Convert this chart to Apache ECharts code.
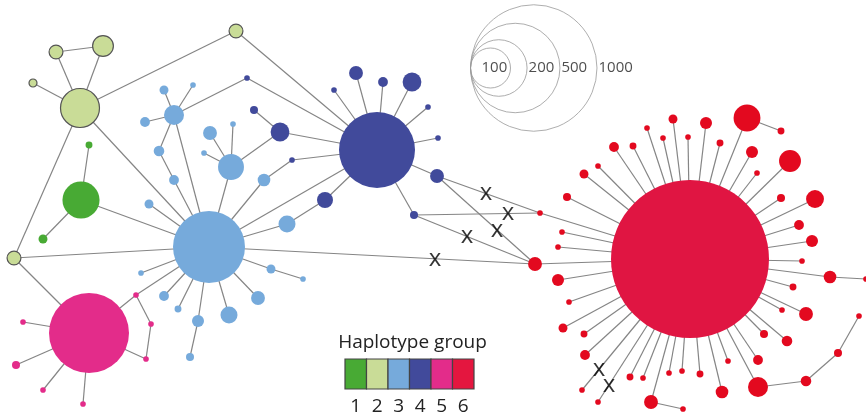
<!DOCTYPE html>
<html>
<head>
<meta charset="utf-8">
<script src="https://cdn.jsdelivr.net/npm/echarts@6/dist/echarts.min.js"></script>
<style>
  html, body { margin: 0; padding: 0; background: #fff; }
  #chart { width: 866px; height: 419px; }
</style>
</head>
<body>
<div id="chart"></div>
<script>
// ---- Haplotype groups ----
const groupLabels = ['1', '2', '3', '4', '5', '6'];
const groupColors = ['#48aa34', '#c9dc97', '#76aadb', '#414a9b', '#e32c8a', '#e3091f'];

// ---- Haplotypes: [id, layout x, layout y, number of samples] ----
const group1 = [
  ['G1', 81, 200, 86], ['G1a', 89, 145, 3], ['G1b', 43, 239, 5]
];
const group2 = [
  ['L2', 80, 108, 95], ['L2a', 56, 52, 12], ['L2b', 103, 46, 27], ['L2c', 33, 83, 4],
  ['L2d', 236, 31, 12], ['L2e', 14, 258, 12]
];
const group3 = [
  ['B0', 209, 247, 324],
  ['B1', 174, 115, 25], ['B1a', 164, 90, 5], ['B1b', 193, 85, 2], ['B1c', 145, 122, 6],
  ['B1d', 159, 151, 7], ['B1e', 174, 180, 6],
  ['B2', 149, 204, 5],
  ['B3', 231, 167, 42], ['B3a', 210, 133, 12], ['B3b', 233, 124, 2], ['B3c', 204, 153, 2],
  ['B4', 264, 180, 10], ['B5', 287, 224, 18], ['B6', 141, 273, 2], ['B7', 164, 296, 6],
  ['B8', 178, 309, 3], ['B9', 198, 321, 9], ['B9a', 190, 357, 4], ['B10', 229, 315, 18],
  ['B11', 258, 298, 12], ['B12', 271, 269, 5], ['B12a', 303, 279, 2]
];
const group4 = [
  ['D0', 377, 150, 361],
  ['D1', 356, 73, 12], ['D2', 383, 82, 6], ['D3', 412, 82, 22], ['D4', 334, 90, 2],
  ['D5', 428, 107, 2], ['D6', 438, 138, 2], ['D7', 437, 176, 12], ['D8', 414, 215, 4],
  ['D9', 247, 78, 2], ['D10', 280, 132, 22], ['D10a', 254, 110, 4], ['D11', 292, 160, 2],
  ['D12', 325, 200, 16]
];
const group5 = [
  ['M0', 89, 333, 400],
  ['M1', 23, 322, 2], ['M2', 16, 365, 4], ['M3', 43, 390, 2], ['M4', 83, 404, 2],
  ['M5', 136, 295, 2], ['M6', 151, 324, 2], ['M7', 146, 359, 2]
];
const group6 = [
  ['R0', 690, 259, 1560],
  ['R1', 535, 264, 12], ['R2', 540, 213, 2], ['R3', 562, 232, 2], ['R4', 558, 247, 2],
  ['R5', 558, 280, 9], ['R6', 569, 302, 2], ['R7', 563, 328, 5], ['R8', 584, 334, 3],
  ['R9', 585, 355, 6], ['R10', 582, 390, 2], ['R11', 598, 402, 2], ['R12', 630, 377, 3],
  ['R13', 643, 378, 2], ['R14', 651, 402, 12], ['R14a', 683, 409, 2], ['R15', 669, 373, 2],
  ['R16', 682, 371, 2], ['R17', 700, 374, 3], ['R18', 722, 392, 10], ['R19', 728, 361, 2],
  ['R20', 758, 360, 6], ['R21', 758, 387, 25], ['R21a', 806, 381, 7], ['R21b', 838, 353, 4],
  ['R21c', 859, 316, 2], ['R22', 764, 334, 4], ['R23', 787, 341, 7], ['R24', 782, 310, 2],
  ['R25', 806, 314, 12], ['R26', 793, 287, 3], ['R27', 830, 277, 10], ['R27a', 866, 279, 2],
  ['R28', 802, 261, 2], ['R29', 812, 241, 9], ['R30', 799, 225, 6], ['R31', 815, 199, 20],
  ['R32', 781, 198, 4], ['R33', 790, 161, 30], ['R34', 757, 173, 2], ['R35', 752, 152, 9],
  ['R36', 747, 118, 45], ['R36a', 781, 131, 3], ['R37', 720, 143, 3], ['R38', 706, 123, 9],
  ['R39', 688, 137, 2], ['R40', 673, 119, 5], ['R41', 663, 138, 2], ['R42', 647, 128, 2],
  ['R43', 633, 146, 3], ['R44', 614, 147, 6], ['R45', 598, 166, 2], ['R46', 584, 174, 5],
  ['R47', 567, 197, 4]
];

// ---- Mutational connections ----
const links = [
  ['L2', 'L2a'], ['L2', 'L2b'], ['L2a', 'L2b'], ['L2', 'L2c'], ['L2', 'L2d'], ['L2d', 'D0'],
  ['L2', 'L2e'], ['L2', 'B0'], ['L2e', 'B0'], ['L2e', 'M0'],
  ['G1', 'G1a'], ['G1', 'G1b'], ['G1', 'B0'],
  ['M0', 'M1'], ['M0', 'M2'], ['M0', 'M3'], ['M0', 'M4'], ['M0', 'M5'], ['M5', 'M6'],
  ['M6', 'M7'], ['M7', 'M0'], ['M5', 'B0'],
  ['B0', 'B1'], ['B1', 'B1a'], ['B1', 'B1b'], ['B1', 'B1c'], ['B1', 'B1d'], ['B1d', 'B1e'],
  ['B1e', 'B0'], ['B1', 'D9'], ['D9', 'D0'],
  ['B0', 'B2'], ['B0', 'B3'], ['B3', 'B3a'], ['B3', 'B3b'], ['B3', 'B3c'], ['B3', 'D10'],
  ['D10', 'D10a'], ['D10', 'D0'],
  ['B0', 'B4'], ['B4', 'D11'], ['D11', 'D0'], ['B0', 'B5'], ['B5', 'D12'], ['D12', 'D0'],
  ['B0', 'B6'], ['B0', 'B7'], ['B0', 'B8'], ['B0', 'B9'], ['B9', 'B9a'], ['B0', 'B10'],
  ['B0', 'B11'], ['B0', 'B12'], ['B12', 'B12a'], ['B0', 'D0'],
  ['D0', 'D1'], ['D0', 'D2'], ['D0', 'D3'], ['D0', 'D4'], ['D0', 'D5'], ['D0', 'D6'],
  ['D0', 'D7'], ['D0', 'D8'],
  ['B0', 'R1'], ['D8', 'R1'], ['D7', 'R1'], ['D7', 'R2'], ['D8', 'R2'],
  ['R14', 'R14a'], ['R21', 'R21a'], ['R21a', 'R21b'], ['R21b', 'R21c'],
  ['R27', 'R27a'], ['R36', 'R36a']
];
// every non-terminal red haplotype radiates from the central one
group6.forEach(function (h) {
  if (h[0] !== 'R0' && !/[a-z]$/.test(h[0])) links.push(['R0', h[0]]);
});

// ---- Missing intermediate haplotypes: [from, to, fraction along the link] ----
const missing = [
  ['B0', 'R1', 0.693], ['D8', 'R1', 0.438], ['D7', 'R1', 0.612],
  ['D7', 'R2', 0.476], ['D8', 'R2', 0.746],
  ['R0', 'R10', 0.843], ['R0', 'R11', 0.88]
];

// ---- Circle size key (number of samples) ----
const sizeKey = [100, 200, 500, 1000];

// ---------------------------------------------------------------
const diameter = n => 4 * Math.sqrt(n);
const allGroups = [group1, group2, group3, group4, group5, group6];
const pos = {};
const nodes = [];
allGroups.forEach(function (grp, gi) {
  grp.forEach(function (h) {
    pos[h[0]] = [h[1], h[2]];
    const isRedHub = gi === 5 && h[3] > 500;
    nodes.push({
      name: h[0],
      value: [h[1], h[2]],
      symbolSize: diameter(h[3]),
      itemStyle: {
        color: isRedHub ? '#e01542' : groupColors[gi],
        borderColor: gi === 1 ? '#555' : 'rgba(0,0,0,0)',
        borderWidth: gi === 1 ? 1.2 : 0
      }
    });
  });
});

const edges = links.map(l => ({ source: l[0], target: l[1] }));

const xMarks = missing.map(function (m) {
  const a = pos[m[0]], b = pos[m[1]], t = m[2];
  return [a[0] + (b[0] - a[0]) * t, a[1] + (b[1] - a[1]) * t];
});

const keyLeft = 470.5, keyY = 68;
const keyCircles = sizeKey.map(v => ({ value: [keyLeft + diameter(v) / 2, keyY], symbolSize: diameter(v) }));
const keyLabels = sizeKey.map(function (v, i) {
  const x = i === 0 ? keyLeft + 11 : keyLeft + diameter(v) + 1.5;
  return { value: [x, keyY], label: { formatter: String(v) } };
});

const chart = echarts.init(document.getElementById('chart'), null, { renderer: 'canvas' });

// colour-box legend for the haplotype groups
const boxLeft = 345, boxTop = 359, boxW = 21.5, boxH = 30;
const legendGraphics = [
  {
    type: 'text', x: 412.5, y: 343,
    style: { text: 'Haplotype group', font: '19px "Open Sans"', fill: '#222', textAlign: 'center', textVerticalAlign: 'middle' }
  }
];
groupLabels.forEach(function (g, i) {
  legendGraphics.push({
    type: 'rect',
    shape: { x: boxLeft + i * boxW, y: boxTop, width: boxW, height: boxH },
    style: { fill: i === 5 ? '#e4163f' : groupColors[i], stroke: '#444', lineWidth: 1.2 }
  });
  legendGraphics.push({
    type: 'text', x: boxLeft + i * boxW + boxW / 2, y: 407,
    style: { text: g, font: '19px "Open Sans"', fill: '#222', textAlign: 'center', textVerticalAlign: 'middle' }
  });
});

chart.setOption({
  animation: false,
  grid: { left: 0, right: 0, top: 0, bottom: 0 },
  xAxis: { type: 'value', min: 0, max: 866, show: false },
  yAxis: { type: 'value', min: 0, max: 419, inverse: true, show: false },
  graphic: legendGraphics,
  series: [
    {
      type: 'scatter',
      coordinateSystem: 'cartesian2d',
      silent: true,
      symbol: 'circle',
      data: keyCircles,
      itemStyle: { color: 'rgba(0,0,0,0)', borderColor: '#999', borderWidth: 1 },
      z: 1
    },
    {
      type: 'scatter',
      coordinateSystem: 'cartesian2d',
      silent: true,
      symbolSize: 0,
      data: keyLabels,
      label: {
        show: true, position: 'right', distance: 0,
        fontFamily: 'Open Sans', fontSize: 15, color: '#222'
      },
      z: 2
    },
    {
      type: 'graph',
      coordinateSystem: 'cartesian2d',
      layout: 'none',
      silent: true,
      data: nodes,
      links: edges,
      lineStyle: { color: '#858585', width: 1.2, opacity: 1, curveness: 0 },
      z: 3
    },
    {
      type: 'scatter',
      coordinateSystem: 'cartesian2d',
      silent: true,
      symbolSize: 0,
      data: xMarks,
      label: {
        show: true, position: 'inside', formatter: 'x',
        fontFamily: 'Open Sans', fontSize: 24, color: '#000', lineHeight: 24
      },
      z: 5
    }
  ]
});
</script>
</body>
</html>
